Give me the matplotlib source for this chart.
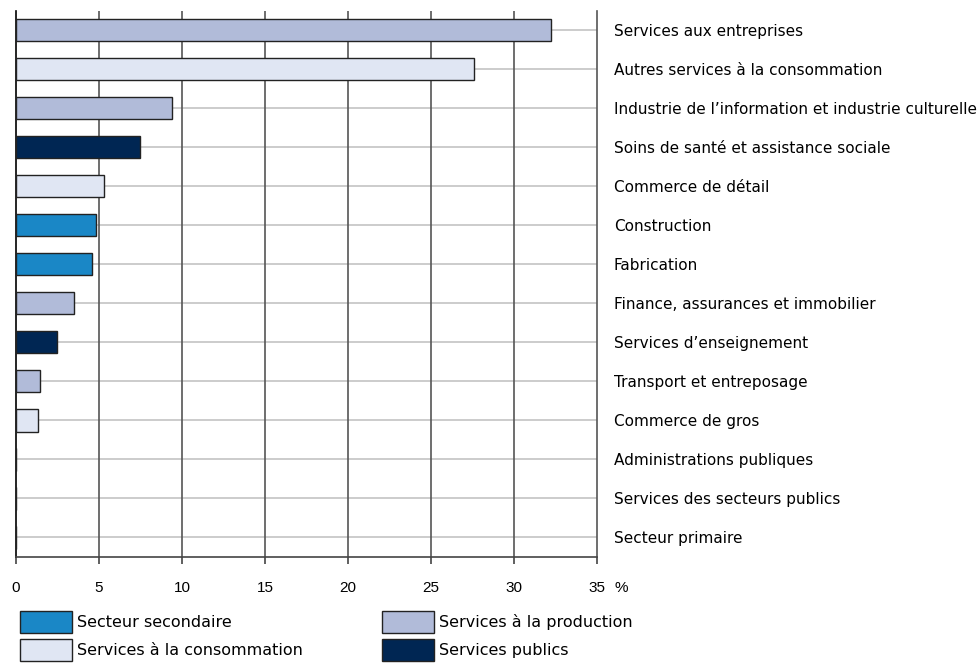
import numpy as np
import matplotlib.pyplot as plt
from matplotlib.patches import Patch

categories = ['Services aux entreprises', 'Autres services à la consommation',
              "Industrie de l’information et industrie culturelle",
              'Soins de santé et assistance sociale', 'Commerce de détail',
              'Construction', 'Fabrication', 'Finance, assurances et immobilier',
              'Services d’enseignement', 'Transport et entreposage',
              'Commerce de gros', 'Administrations publiques',
              'Services des secteurs publics', 'Secteur primaire']
values = [32.2, 27.6, 9.4, 7.5, 5.3, 4.8, 4.6, 3.5, 2.5, 1.45, 1.3, 0, 0, 0]
groups = ['prod', 'cons', 'prod', 'pub', 'cons', 'sec', 'sec', 'prod',
          'pub', 'prod', 'cons', 'pub', 'pub', 'sec']
group_names = {'sec': 'Secteur secondaire', 'cons': 'Services à la consommation',
               'prod': 'Services à la production', 'pub': 'Services publics'}
colors = {'sec': '#1a87c6', 'cons': '#e0e6f3', 'prod': '#b1bbd9', 'pub': '#002653'}
xticks = [0, 5, 10, 15, 20, 25, 30, 35]

lab_font = 'DejaVu Sans'
lab_size = 11
leg_size = 11.5
tick_size = 11

fig = plt.figure(figsize=(9.79, 6.64), dpi=100)
ax = fig.add_axes([16/979, 1-557/664, (597-16)/979, (557-10.5)/664])

y = np.arange(len(categories))
ax.barh(y, values, height=0.57, color=[colors[g] for g in groups],
        edgecolor='#222222', linewidth=1.0, zorder=3)

ax.set_xlim(0, 35)
ax.set_ylim(len(categories)-0.5, -0.5)
ax.set_xticks(xticks)
ax.set_xticklabels([str(t) for t in xticks], fontsize=tick_size, family='Liberation Sans')
ax.tick_params(axis='x', length=5, width=1.2, pad=12.5, color='#444444')
ax.set_yticks(y)
ax.yaxis.tick_right()
ax.set_yticklabels(categories, fontsize=lab_size, family=lab_font)
ax.tick_params(axis='y', length=0, pad=12)

# grid: light horizontal lines through each row, darker vertical lines
for yy in y:
    ax.axhline(yy, color='#c4c4c4', lw=1.2, zorder=1)
for xx in xticks[1:-1]:
    ax.axvline(xx, color='#555555', lw=1.2, zorder=2)

ax.spines['top'].set_visible(False)
ax.spines['left'].set_color('#000000')
ax.spines['right'].set_color('#555555')
ax.spines['bottom'].set_color('#444444')
for s in ['left', 'right', 'bottom']:
    ax.spines[s].set_linewidth(1.2)

fig.text(615/979, 1-588/664, '%', fontsize=tick_size, family='Liberation Sans',
         va='center', ha='left')

# two one-column legends so that each column sits where it should
fpx = leg_size * 100 / 72
ph = 22 / fpx
hh = (ph - 0.245) / 0.65
order_cols = [['sec', 'cons'], ['prod', 'pub']]
col_x = [20, 382]
for cols, x0 in zip(order_cols, col_x):
    handles = [Patch(facecolor=colors[g], edgecolor='#222222', linewidth=1.0) for g in cols]
    fig.legend(handles, [group_names[g] for g in cols], loc='upper left',
               bbox_to_anchor=(x0/979, 1-611/664), frameon=False,
               prop={'family': lab_font, 'size': leg_size},
               handlelength=52/fpx, handleheight=hh, handletextpad=5/fpx,
               labelspacing=6/fpx, borderpad=0, borderaxespad=0)

fig.savefig('out.png', dpi=100)
